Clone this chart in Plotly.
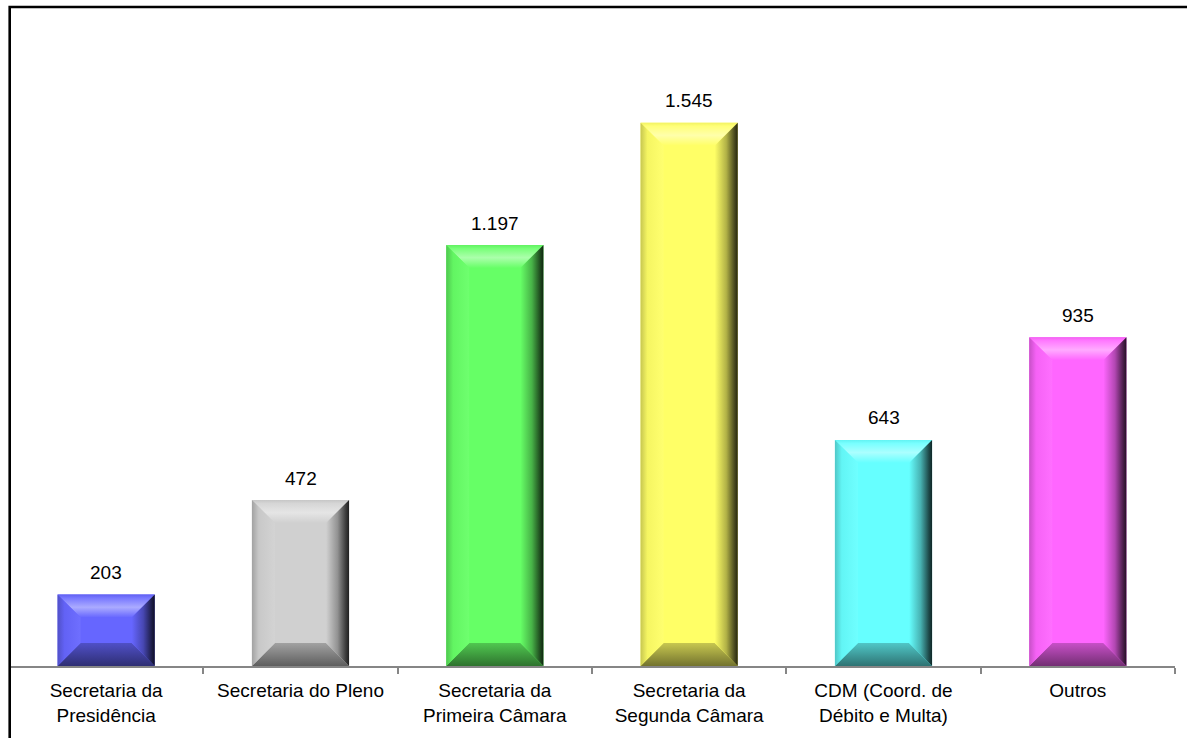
import plotly.graph_objects as go

# Data
categories = [
    "Secretaria da<br>Presidência",
    "Secretaria do Pleno",
    "Secretaria da<br>Primeira Câmara",
    "Secretaria da<br>Segunda Câmara",
    "CDM (Coord. de<br>Débito e Multa)",
    "Outros",
]
values = [203, 472, 1197, 1545, 643, 935]
bar_colors = ["#6666FF", "#D0D0D0", "#66FF66", "#FFFF66", "#66FFFF", "#FF66FF"]

# Layout geometry (pixels)
W, H = 1187, 738
M_L, M_R, M_T, M_B = 9, 12, 33, 72
Y_MAX = 1800
BAR_W = 0.5
BEVEL_PX = 23

plot_w = W - M_L - M_R
plot_h = H - M_T - M_B
n = len(values)
px_per_x = plot_w / n
px_per_y = plot_h / Y_MAX
bx = BEVEL_PX / px_per_x
by = BEVEL_PX / px_per_y


def hex_rgb(c):
    c = c.lstrip("#")
    return tuple(int(c[i:i + 2], 16) for i in (0, 2, 4))


def mix(c, target, f):
    r = hex_rgb(c)
    return "rgb(%d,%d,%d)" % tuple(round(a + (t - a) * f) for a, t in zip(r, target))


def lighten(c, f):
    return mix(c, (255, 255, 255), f)


def darken(c, f):
    return mix(c, (0, 0, 0), f)


xs = list(range(n))
fig = go.Figure()

fig.add_trace(go.Bar(
    x=xs, y=values, width=BAR_W,
    marker=dict(color=bar_colors, line=dict(width=0)),
    hoverinfo="skip", showlegend=False,
))

# Bevelled facets on each bar
for i, (v, c) in enumerate(zip(values, bar_colors)):
    x0, x1 = i - BAR_W / 2, i + BAR_W / 2
    ib = min(by, v * 0.4)
    facets = [
        # top
        ([x0, x1, x1 - bx, x0 + bx, x0], [v, v, v - ib, v - ib, v], "vertical",
         [[0, c], [0.45, lighten(c, 0.45)], [0.85, lighten(c, 0.12)], [1, darken(c, 0.05)]]),
        # bottom
        ([x0, x1, x1 - bx, x0 + bx, x0], [0, 0, ib, ib, 0], "vertical",
         [[0, darken(c, 0.55)], [1, darken(c, 0.22)]]),
        # left
        ([x0, x0, x0 + bx, x0 + bx, x0], [0, v, v - ib, ib, 0], "horizontal",
         [[0, darken(c, 0.22)], [0.3, darken(c, 0.04)], [1, lighten(c, 0.06)]]),
        # right
        ([x1, x1, x1 - bx, x1 - bx, x1], [0, v, v - ib, ib, 0], "horizontal",
         [[0, c], [0.5, darken(c, 0.3)], [0.85, darken(c, 0.7)], [1, darken(c, 0.85)]]),
    ]
    for fx, fy, orient, cs in facets:
        fig.add_trace(go.Scatter(
            x=fx, y=fy, mode="lines", fill="toself",
            line=dict(width=0), fillgradient=dict(type=orient, colorscale=cs),
            hoverinfo="skip", showlegend=False,
        ))

# Value labels
for i, v in enumerate(values):
    fig.add_annotation(
        x=i, y=v, text=f"{v:,}".replace(",", "."), showarrow=False,
        yanchor="middle", yshift=22,
        font=dict(size=19, color="#000000"),
    )

# Chart frame (left and top edges visible)
def px_to_paper_x(px):
    return (px - M_L) / plot_w


def px_to_paper_y(py):
    return (H - M_B - py) / plot_h


fig.add_shape(
    type="rect", xref="paper", yref="paper",
    x0=px_to_paper_x(9.7), x1=px_to_paper_x(W + 20),
    y0=px_to_paper_y(H + 20), y1=px_to_paper_y(7),
    line=dict(color="#000000", width=2.6), fillcolor="rgba(0,0,0,0)",
    layer="above",
)

fig.update_layout(
    width=W, height=H,
    margin=dict(l=M_L, r=M_R, t=M_T, b=M_B, pad=0),
    paper_bgcolor="white", plot_bgcolor="white",
    font=dict(family="Liberation Sans, Arial, sans-serif", size=19, color="#000000"),
    bargap=0.5,
    xaxis=dict(
        range=[-0.5, n - 0.5], tickmode="array", tickvals=xs, ticktext=categories,
        ticks="", showgrid=False, zeroline=False, ticklabelstandoff=6,
        showline=True, linecolor="#868686", linewidth=2,
        minor=dict(tickmode="array", tickvals=[k + 0.5 for k in range(n)],
                   ticks="outside", ticklen=6, tickwidth=1.5, tickcolor="#868686",
                   showgrid=False),
        tickfont=dict(size=19),
    ),
    yaxis=dict(range=[0, Y_MAX], visible=False, showgrid=False, zeroline=False),
)

fig.write_html("out.html")
